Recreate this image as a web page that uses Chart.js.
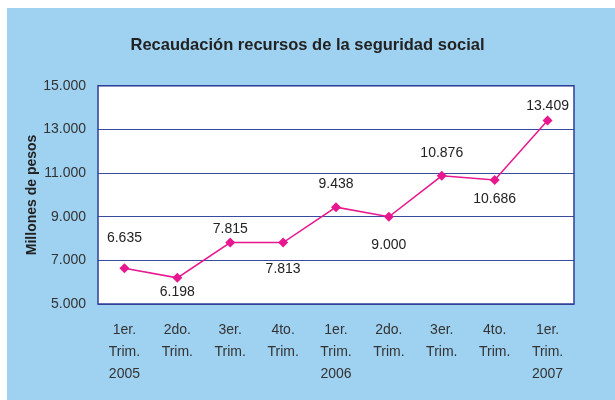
<!DOCTYPE html>
<html>
<head>
<meta charset="utf-8">
<script src="https://cdn.jsdelivr.net/npm/chart.js@4"></script>
<style>
  html, body { margin: 0; padding: 0; background: #fff; }
  #wrap { width: 615px; height: 400px; }
</style>
</head>
<body>
<div id="wrap"><canvas id="recaudacionChart" width="615" height="400"></canvas></div>
<script>
var trimestres = [
  ['1er.', 'Trim.', '2005'], ['2do.', 'Trim.'], ['3er.', 'Trim.'], ['4to.', 'Trim.'],
  ['1er.', 'Trim.', '2006'], ['2do.', 'Trim.'], ['3er.', 'Trim.'], ['4to.', 'Trim.'],
  ['1er.', 'Trim.', '2007']
];
var recaudacion = [6635, 6198, 7815, 7813, 9438, 9000, 10876, 10686, 13409];
var labelDy = [-30, 14, -13, 27, -23, 28, -23, 19, -14];

function fmt(v) {
  return String(v).replace(/\B(?=(\d{3})+(?!\d))/g, '.');
}

var fondo = {
  id: 'fondo',
  beforeDraw: function (chart) {
    var c = chart.ctx;
    c.save();
    c.fillStyle = '#ffffff';
    c.fillRect(0, 0, chart.width, chart.height);
    c.fillStyle = '#9fd1f0';
    c.fillRect(7, 8, chart.width - 7, chart.height - 8);
    var a = chart.chartArea;
    c.fillStyle = '#ffffff';
    c.fillRect(a.left, a.top, a.right - a.left, a.bottom - a.top);
    c.restore();
  },
  afterDatasetsDraw: function (chart) {
    var c = chart.ctx, a = chart.chartArea;
    c.save();
    c.strokeStyle = '#2f3f98';
    c.lineWidth = 1.5;
    c.strokeRect(a.left, a.top, a.right - a.left, a.bottom - a.top);
    var pts = chart.getDatasetMeta(0).data;
    c.fillStyle = '#222';
    c.font = '14px "Liberation Sans", Arial, sans-serif';
    c.textAlign = 'center';
    c.textBaseline = 'middle';
    pts.forEach(function (p, i) {
      c.fillText(fmt(recaudacion[i]), p.x, p.y + labelDy[i]);
    });
    c.restore();
  }
};

var ctx = document.getElementById('recaudacionChart');
var chart = new Chart(ctx, {
  type: 'line',
  data: {
    labels: trimestres,
    datasets: [{
      data: recaudacion,
      borderColor: '#e8178f',
      backgroundColor: '#e8178f',
      borderWidth: 1.5,
      pointStyle: 'rectRot',
      pointRadius: 5,
      pointBorderWidth: 0,
      tension: 0
    }]
  },
  options: {
    responsive: false,
    animation: false,
    layout: { padding: { left: 0, right: 0, top: 0, bottom: 8 } },
    plugins: {
      legend: { display: false },
      tooltip: { enabled: false },
      title: {
        display: true,
        text: 'Recaudación recursos de la seguridad social',
        color: '#222',
        font: { family: '"Liberation Sans", Arial, sans-serif', size: 16.5, weight: 'bold' },
        padding: { top: 36, bottom: 30 }
      }
    },
    scales: {
      x: {
        offset: true,
        grid: { display: false },
        border: { display: false },
        ticks: {
          color: '#333',
          padding: 7,
          maxRotation: 0,
          autoSkip: false,
          font: { family: '"Liberation Sans", Arial, sans-serif', size: 14, lineHeight: '22px' }
        }
      },
      y: {
        min: 5000,
        max: 15000,
        afterFit: function (s) { s.width = 98; },
        grid: { color: '#3a4a9e', lineWidth: 1, drawTicks: false },
        border: { display: false },
        ticks: {
          stepSize: 2000,
          color: '#333',
          padding: 12,
          font: { family: '"Liberation Sans", Arial, sans-serif', size: 14 },
          callback: function (v) { return fmt(v); }
        },
        title: {
          display: true,
          text: 'Millones de pesos',
          color: '#222',
          font: { family: '"Liberation Sans", Arial, sans-serif', size: 14, weight: 'bold' },
          padding: { top: 24, bottom: 0 }
        }
      },
      yRight: {
        position: 'right',
        min: 5000,
        max: 15000,
        afterFit: function (s) { s.width = 41; },
        grid: { display: false, drawTicks: false },
        border: { display: false },
        ticks: { display: false }
      }
    }
  },
  plugins: [fondo]
});
</script>
</body>
</html>
